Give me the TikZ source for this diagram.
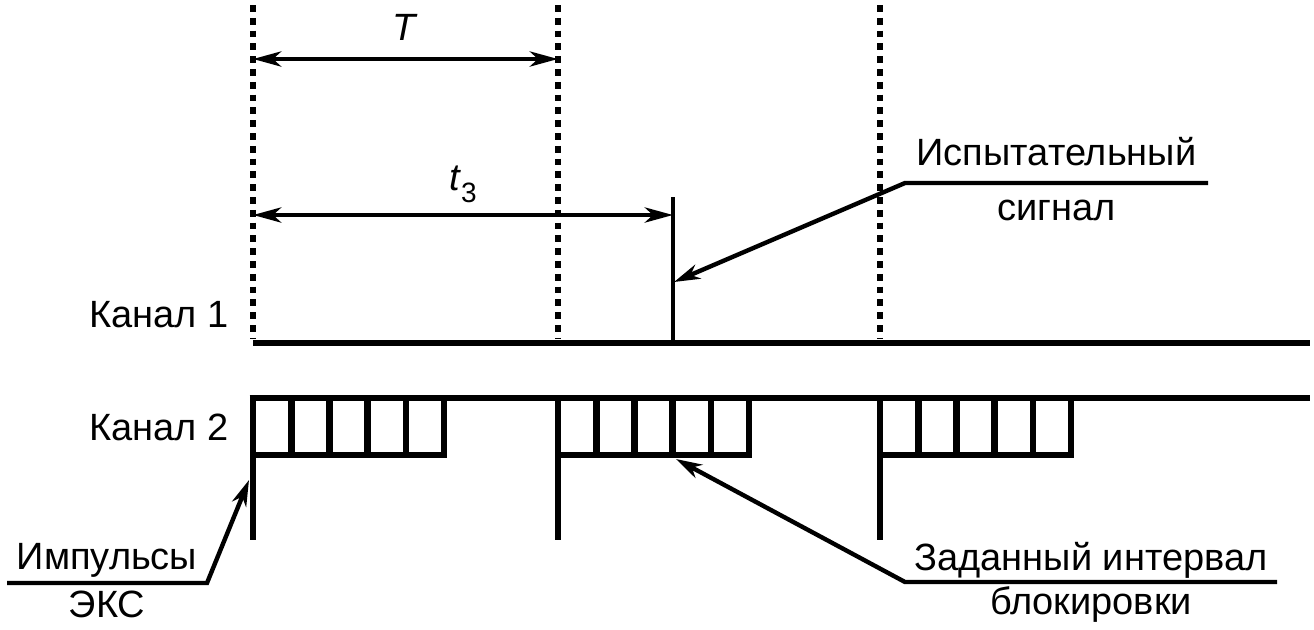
\documentclass[tikz,border=0pt]{standalone}
\usepackage{fontspec}
\setmainfont{Liberation Sans}
\usetikzlibrary{arrows.meta,positioning,calc}
\tikzset{
  wave/.style={line width=3.3pt},
  probe/.style={line width=2.3pt},
  marker/.style={line width=3.4pt, dash pattern=on 3.4pt off 3pt},
  dimline/.style={{Stealth[length=14pt,width=7.5pt,inset=4pt]}-{Stealth[length=14pt,width=7.5pt,inset=4pt]}, line width=2.4pt},
  pointer/.style={-{Stealth[length=13pt,width=7.5pt,inset=4pt]}, line width=2.2pt},
  caption/.style={font=\fontsize{19}{22}\selectfont, inner sep=0pt, text height=13.5pt, text depth=0pt}
}
\begin{document}
\begin{tikzpicture}[x=0.5pt,y=-0.5pt]
  \useasboundingbox (0,0) rectangle (1314,629);
  % period markers
  \foreach \mx/\mn in {253/a,558/b,880/c}{
    \coordinate (top\mn) at (\mx,5);
    \coordinate (foot\mn) at (\mx,338);
    \draw[marker] (top\mn) -- (foot\mn);
  }
  \coordinate (Ta) at (253,59); \coordinate (Tb) at (558,59);
  \draw[dimline] (Ta) -- node[caption, above=8pt] (Tlab) {\textit{T}} (Tb);
  \coordinate (ta) at (253,215); \coordinate (tb) at (673,215);
  \draw[dimline] (ta) -- node[caption, above=11pt] (tlab) {\textit{t}\raisebox{-6pt}{\fontsize{14}{14}\selectfont 3}} (tb);

  % channel 1
  \coordinate (c1a) at (253,343); \coordinate (c1b) at (1310,343);
  \draw[wave] (c1a) -- (c1b);
  \coordinate (sigfoot) at (673,343); \coordinate (sigtop) at (673,197);
  \draw[probe] (sigfoot) -- (sigtop);
  \coordinate (sighit) at (674,282);
  \node[caption, anchor=base east] (ch1) at (229,327) {Канал 1};

  % channel 2
  \coordinate (c2a) at (249.7,398); \coordinate (c2b) at (1310,398);
  \draw[wave] (c2a) -- (c2b);
  \foreach \gx in {253,558,880}{
    \draw[wave] (\gx,398) -- (\gx,540);
    \draw[wave] (\gx,455) -| (\gx+191,398);
    \foreach \k in {1,...,4}
      \draw[wave] (\gx+38.2*\k,398) -- (\gx+38.2*\k,455);
  }
  \node[caption, anchor=base east] (ch2) at (229,440) {Канал 2};

  % callouts
  \coordinate (sigR) at (1208,183); \coordinate (sigL) at (905,183);
  \draw[pointer] (sigR) -- node[caption, above=7.5pt] (sigtxt) {Испытательный}
    node[caption, below=4pt] (sigsub) {сигнал} (sigL) -- (sighit);
  \coordinate (blkR) at (1277,582); \coordinate (blkL) at (905,582);
  \coordinate (blkhit) at (676,459);
  \draw[pointer] (blkR) -- node[caption, above=4.5pt] (blktxt) {Заданный интервал}
    node[caption, below=1.5pt] (blksub) {блокировки} (blkL) -- (blkhit);
  \coordinate (exsL) at (7,583); \coordinate (exsR) at (207,583);
  \coordinate (exshit) at (249,480);
  \draw[pointer] (exsL) -- node[caption, above=5.5pt] (exstxt) {Импульсы}
    node[caption, below=2.5pt] (exssub) {ЭКС} (exsR) -- (exshit);
\end{tikzpicture}
\end{document}
